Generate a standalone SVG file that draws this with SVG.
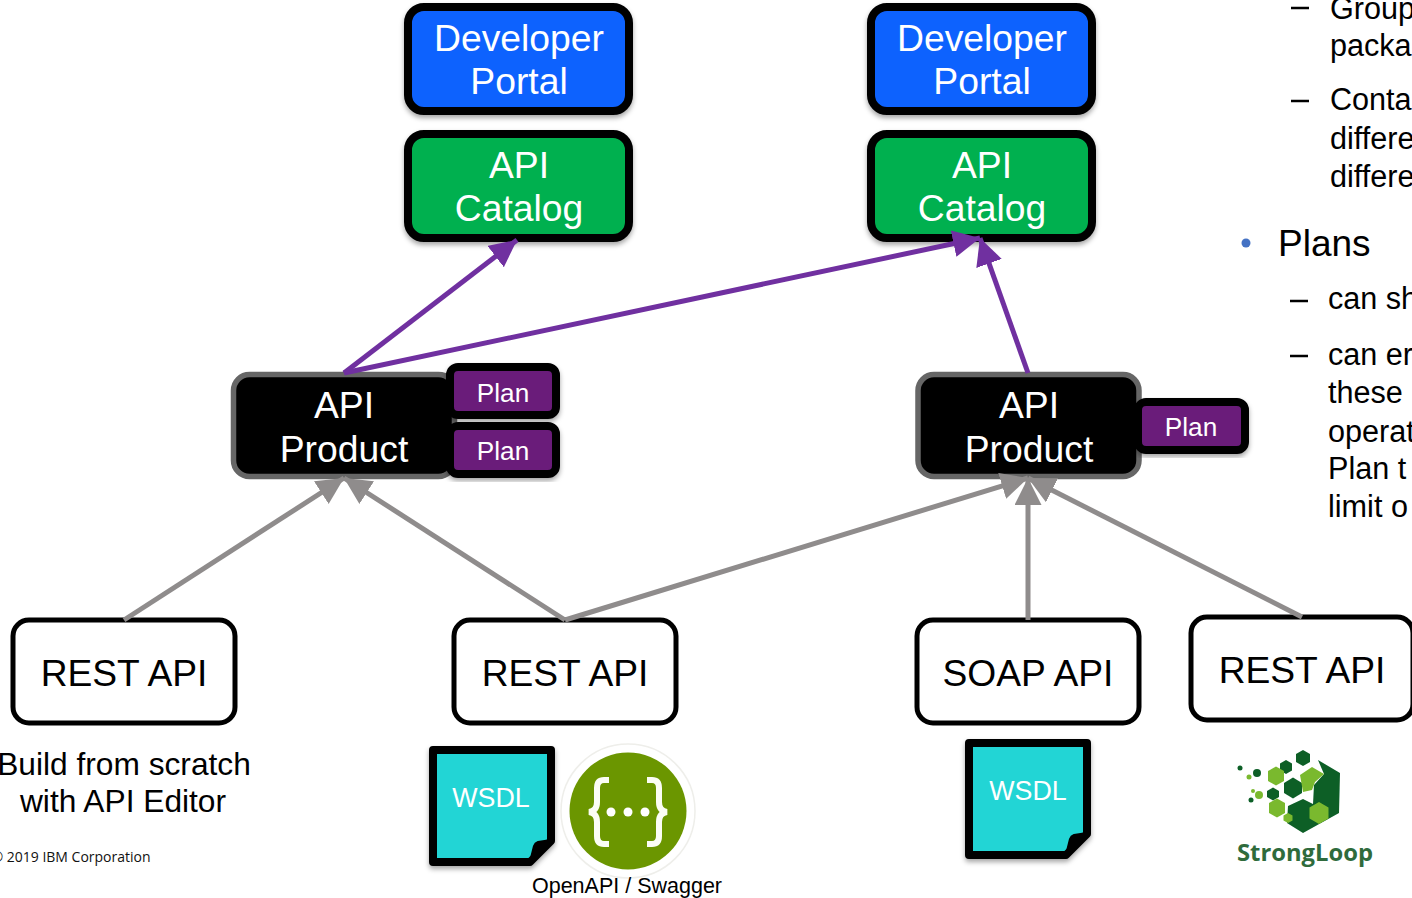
<svg xmlns="http://www.w3.org/2000/svg" width="1412" height="898" viewBox="0 0 1412 898">
<style>
text{font-family:"Liberation Sans",Arial,sans-serif;text-anchor:middle}
.t38{font-size:37.3px;fill:#fff}
.d38{font-size:37.2px;fill:#000}
.p{font-size:26.2px;fill:#fff}
.b{font-size:31.7px;fill:#000}
.s{font-size:30.6px;fill:#000;text-anchor:start}
.dash{stroke:#000;stroke-width:2.4}
.blue{fill:#0f62fe;stroke:#000;stroke-width:8}
.green{fill:#00b04f;stroke:#000;stroke-width:8}
.prod{fill:#000;stroke:#666;stroke-width:5.5}
.plan{fill:#6a1a7a;stroke:#000;stroke-width:8}
.rest{fill:#fff;stroke:#000;stroke-width:5}
.doc{fill:#22d5d5;stroke:#000;stroke-width:8;stroke-linejoin:round}
.pl{stroke:#7030a0;stroke-width:5;fill:none}
.gr{stroke:#8f8c8c;stroke-width:5;fill:none}
.hex1{fill:#0b5e28}.hex2{fill:#7ab92f}
</style>
<defs>
<filter id="sh" x="-10%" y="-10%" width="120%" height="125%"><feDropShadow dx="0" dy="3" stdDeviation="2.5" flood-color="#000" flood-opacity="0.35"/></filter>
<filter id="soft"><feGaussianBlur stdDeviation="0.55"/></filter>
<marker id="ap" markerUnits="userSpaceOnUse" markerWidth="30" markerHeight="30" refX="27" refY="13.5" orient="auto"><path d="M0 0L27 13.5L0 27Z" fill="#7030a0"/></marker>
<marker id="ag" markerUnits="userSpaceOnUse" markerWidth="30" markerHeight="30" refX="27" refY="13.5" orient="auto"><path d="M0 0L27 13.5L0 27Z" fill="#8f8c8c"/></marker>
</defs>

<g id="portal1"><rect class="blue" x="408" y="7" width="221" height="104" rx="16" filter="url(#sh)"/><text class="t38" x="519" y="51">Developer</text><text class="t38" x="519" y="94">Portal</text></g>
<g id="portal2"><rect class="blue" x="871" y="7" width="221" height="104" rx="16" filter="url(#sh)"/><text class="t38" x="982" y="51">Developer</text><text class="t38" x="982" y="94">Portal</text></g>
<g id="catalog1"><rect class="green" x="408" y="134" width="221" height="104" rx="16" filter="url(#sh)"/><text class="t38" x="519" y="178">API</text><text class="t38" x="519" y="221">Catalog</text></g>
<g id="catalog2"><rect class="green" x="871" y="134" width="221" height="104" rx="16" filter="url(#sh)"/><text class="t38" x="982" y="178">API</text><text class="t38" x="982" y="221">Catalog</text></g>

<g id="product1"><rect class="prod" x="233.5" y="374.500" width="221" height="102" rx="16"/><text class="t38" x="344" y="418">API</text><text class="t38" x="344" y="462">Product</text></g>
<g id="product2"><rect class="prod" x="918" y="374.500" width="221" height="102" rx="16"/><text class="t38" x="1029" y="418">API</text><text class="t38" x="1029" y="462">Product</text></g>

<g id="plan1"><rect class="plan" x="450" y="367" width="106" height="48" rx="8" filter="url(#sh)"/><text class="p" x="503" y="402">Plan</text></g>
<g id="plan2"><rect class="plan" x="450" y="426" width="106" height="48" rx="8" filter="url(#sh)"/><text class="p" x="503" y="460">Plan</text></g>
<g id="plan3"><rect class="plan" x="1138" y="402" width="107" height="48" rx="8" filter="url(#sh)"/><text class="p" x="1191" y="436">Plan</text></g>

<g id="rest1"><rect class="rest" x="13" y="620" width="222" height="103" rx="16"/><text class="d38" x="124" y="686">REST API</text></g>
<g id="rest2"><rect class="rest" x="454" y="620" width="222" height="103" rx="16"/><text class="d38" x="565" y="686">REST API</text></g>
<g id="soap"><rect class="rest" x="917" y="620" width="222" height="103" rx="16"/><text class="d38" x="1028" y="686">SOAP API</text></g>
<g id="rest3"><rect class="rest" x="1191" y="617" width="222" height="103" rx="16"/><text class="d38" x="1302" y="683">REST API</text></g>

<g id="connectors">
<path class="pl" marker-end="url(#ap)" d="M344 373L517 240"/>
<path class="pl" marker-end="url(#ap)" d="M344 373L980 238"/>
<path class="pl" marker-end="url(#ap)" d="M1028 373L980 238"/>
<path class="gr" marker-end="url(#ag)" d="M124 620L344 478"/>
<path class="gr" marker-end="url(#ag)" d="M565 620L344 478"/>
<path class="gr" marker-end="url(#ag)" d="M565 620L1028 478"/>
<path class="gr" marker-end="url(#ag)" d="M1028 620L1028 478"/>
<path class="gr" marker-end="url(#ag)" d="M1302 617L1028 478"/>
</g>

<g id="scratch-note"><text class="b" x="124" y="775">Build from scratch</text><text class="b" x="123" y="812">with API Editor</text></g>
<text x="71" y="862" style="font-family:'Open Sans',sans-serif;font-size:14px;fill:#111">© 2019 IBM Corporation</text>

<g id="wsdl1"><path class="doc" d="M433 750H551V841L530 862H433Z" filter="url(#sh)"/><path d="M530 862L534 846Q535 843 538 842L551 840Z" fill="#000" stroke="#000" stroke-width="2" stroke-linejoin="round"/><text x="491" y="807" style="font-size:26.800px;fill:#fff">WSDL</text></g>
<g id="wsdl2"><path class="doc" d="M969 743H1087V834L1066 855H969Z" filter="url(#sh)"/><path d="M1066 855L1070 839Q1071 836 1074 835L1087 833Z" fill="#000" stroke="#000" stroke-width="2" stroke-linejoin="round"/><text x="1028" y="800" style="font-size:26.800px;fill:#fff">WSDL</text></g>

<g id="swagger">
<circle cx="628" cy="811" r="67" fill="#fff" stroke="#eeeeea" stroke-width="1.5"/>
<circle cx="628" cy="811" r="58.5" fill="#6b9600"/>
<path d="M609 780H604Q597 780 597 788V802Q597 811 589 812Q597 813 597 822V836Q597 844 604 844H609M647 780H652Q659 780 659 788V802Q659 811 667 812Q659 813 659 822V836Q659 844 652 844H647" fill="none" stroke="#fbfdf5" stroke-width="6"/>
<circle cx="611" cy="812" r="4.500" fill="#fff"/><circle cx="628" cy="812" r="4.500" fill="#fff"/><circle cx="645" cy="812" r="4.500" fill="#fff"/>
<text x="627" y="893" style="font-size:21.500px;fill:#000">OpenAPI / Swagger</text>
</g>

<g id="strongloop">
<g filter="url(#soft)">
<path class="hex1" d="M1318 760L1340 773L1339 813L1303 833L1287 823L1288 806L1303 799L1313 804L1314 785L1324 774Z"/>
<path class="hex1" d="M1303 750L1310 754V762L1303 766L1296 762V754Z"/>
<path class="hex1" d="M1286 760L1292 763.5V770.5L1286 774L1280 770.5V763.5Z"/>
<path class="hex2" d="M1276 766.500L1284 771V781L1276 785.500L1268 781V771Z"/>
<path class="hex1" d="M1293 777.500L1302 783V793L1293 798.500L1284 793V783Z"/>
<path class="hex2" d="M1300 775L1312 767L1324 774L1315 782L1312 790L1303 792Z"/>
<path class="hex1" d="M1273 787.500L1279 791V797L1273 800.500L1267 797V791Z"/>
<path class="hex2" d="M1277 798.500L1285 803V813L1277 817.500L1269 813V803Z"/>
<path class="hex2" d="M1288 813L1292.500 815.500V820.500L1288 823L1283.500 820.500V815.500Z"/>
<path class="hex2" d="M1319 802L1328.500 807.500V818.500L1319 824L1309.500 818.500V807.500Z"/>
<circle cx="1240" cy="768" r="2.500" fill="#0b5e28"/><circle cx="1257" cy="773" r="4" fill="#0b5e28"/><circle cx="1249" cy="777" r="2.500" fill="#7ab92f"/><circle cx="1259" cy="795" r="4" fill="#7ab92f"/><circle cx="1253" cy="791" r="2" fill="#7ab92f"/><circle cx="1251" cy="800" r="2.500" fill="#0b5e28"/>
</g>
<text x="1305" y="861" style="font-family:'Open Sans',sans-serif;font-weight:700;font-size:24px;fill:#2f6b3c" textLength="136" lengthAdjust="spacingAndGlyphs">StrongLoop</text>
</g>

<g id="side-text">
<path class="dash" d="M1291 8H1309M1291 101H1309M1290 301H1308M1290 356H1308"/>
<circle cx="1246" cy="243" r="4.500" fill="#4472c4"/>
<text class="s" x="1330" y="19">Group</text>
<text class="s" x="1330" y="56">packa</text>
<text class="s" x="1330" y="110">Conta</text>
<text class="s" x="1330" y="149">differe</text>
<text class="s" x="1330" y="187">differe</text>
<text class="s" x="1278" y="256" style="font-size:37px">Plans</text>
<text class="s" x="1328" y="309">can sh</text>
<text class="s" x="1328" y="365">can er</text>
<text class="s" x="1328" y="403">these</text>
<text class="s" x="1328" y="442">operat</text>
<text class="s" x="1328" y="479">Plan t</text>
<text class="s" x="1328" y="517">limit o</text>
</g>
</svg>
